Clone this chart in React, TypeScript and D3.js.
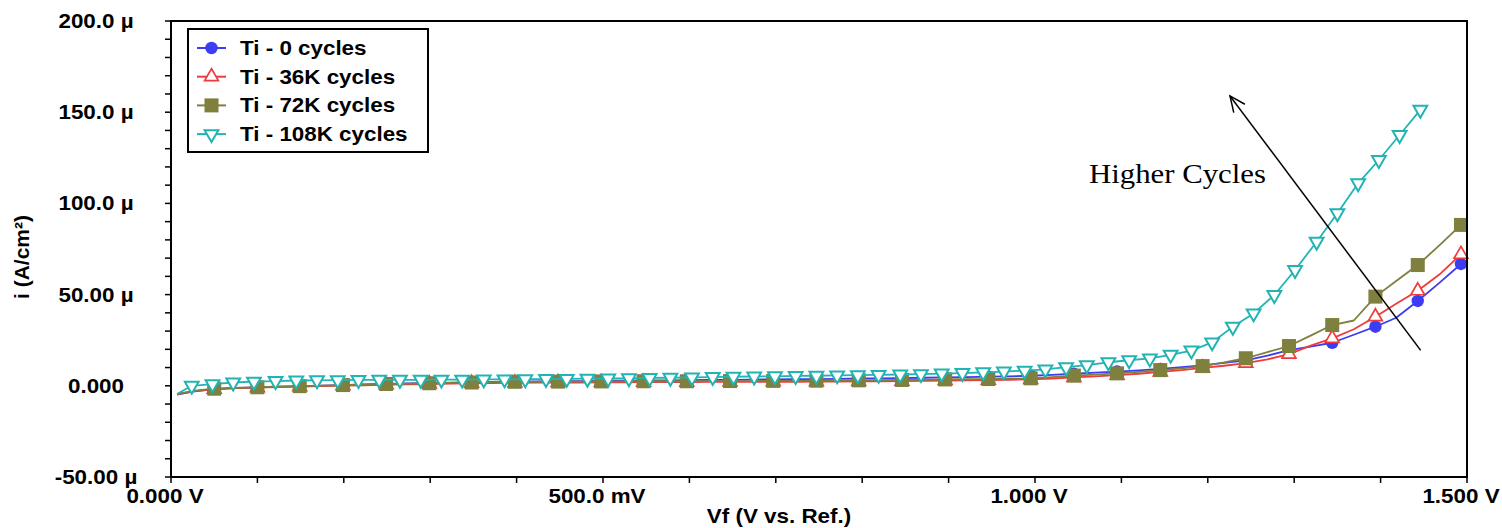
import React from "react";
import * as d3 from "d3";

// potential sweep (V vs. Ref.) and current density (µA/cm²)
const VF_SWEEP = [0.007, 0.025, 0.050, 0.075, 0.100, 0.124, 0.149, 0.174, 0.199, 0.224, 0.249, 0.274, 0.299, 0.324, 0.348, 0.373, 0.398, 0.423, 0.448, 0.473, 0.498, 0.523, 0.547, 0.572, 0.597, 0.622, 0.647, 0.672, 0.697, 0.722, 0.747, 0.771, 0.796, 0.821, 0.846, 0.871, 0.896, 0.921, 0.946, 0.970, 0.995, 1.020, 1.045, 1.070, 1.095, 1.120, 1.145, 1.170, 1.194, 1.219, 1.244, 1.269, 1.294, 1.319, 1.344, 1.369, 1.394, 1.418, 1.443, 1.468, 1.493];
const VF_SWEEP_108K = [0.007, 0.024, 0.048, 0.072, 0.096, 0.121, 0.145, 0.169, 0.193, 0.217, 0.241, 0.265, 0.289, 0.313, 0.337, 0.362, 0.386, 0.410, 0.434, 0.458, 0.482, 0.506, 0.530, 0.554, 0.578, 0.603, 0.627, 0.651, 0.675, 0.699, 0.723, 0.747, 0.771, 0.795, 0.819, 0.844, 0.868, 0.892, 0.916, 0.940, 0.964, 0.988, 1.012, 1.036, 1.060, 1.085, 1.109, 1.133, 1.157, 1.181, 1.205, 1.229, 1.253, 1.277, 1.301, 1.326, 1.350, 1.374, 1.398, 1.422, 1.446];

const I_0K = [-4.8, -3.2, -1.8, -1.2, -0.8, -0.5, -0.2, 0.1, 0.4, 0.7, 1.0, 1.3, 1.5, 1.7, 1.9, 2.1, 2.3, 2.4, 2.5, 2.6, 2.7, 2.8, 2.9, 3.0, 3.1, 3.2, 3.3, 3.4, 3.5, 3.6, 3.7, 3.8, 4.0, 4.1, 4.2, 4.4, 4.6, 4.8, 5.0, 5.2, 5.5, 6.0, 6.6, 7.2, 7.8, 8.5, 9.3, 10.2, 11.2, 12.6, 14.0, 16.5, 19.5, 21.5, 23.6, 28.0, 32.4, 37.3, 46.5, 56.4, 66.8];
const I_36K = [-4.7, -3.0, -1.8, -1.3, -1.0, -0.7, -0.5, -0.2, 0.1, 0.3, 0.6, 0.8, 1.0, 1.2, 1.4, 1.5, 1.6, 1.7, 1.8, 1.8, 1.9, 1.9, 2.0, 2.0, 2.0, 2.1, 2.1, 2.1, 2.2, 2.2, 2.3, 2.3, 2.4, 2.5, 2.6, 2.7, 2.9, 3.0, 3.1, 3.3, 3.5, 4.0, 4.6, 5.2, 5.8, 6.6, 7.6, 8.6, 9.8, 11.0, 12.4, 14.5, 17.4, 22.0, 26.0, 31.0, 37.9, 45.0, 52.1, 61.0, 72.1];
const I_72K = [-4.6, -2.8, -1.6, -1.1, -0.8, -0.5, -0.2, 0.1, 0.4, 0.7, 1.0, 1.2, 1.4, 1.6, 1.8, 2.0, 2.2, 2.2, 2.3, 2.3, 2.4, 2.4, 2.5, 2.5, 2.5, 2.6, 2.6, 2.6, 2.7, 2.7, 2.8, 2.9, 3.0, 3.1, 3.2, 3.3, 3.5, 3.6, 3.7, 3.9, 4.1, 4.8, 5.6, 6.1, 6.8, 7.6, 8.6, 9.6, 10.8, 12.8, 15.1, 18.5, 21.8, 27.5, 33.3, 35.8, 48.9, 57.5, 66.2, 77.0, 88.2];
const I_108K = [-4.5, 0.0, 0.9, 1.8, 2.3, 2.6, 2.9, 3.0, 3.1, 3.2, 3.3, 3.3, 3.3, 3.4, 3.4, 3.5, 3.5, 3.6, 3.7, 3.8, 3.9, 4.0, 4.1, 4.3, 4.4, 4.6, 4.8, 5.0, 5.1, 5.2, 5.4, 5.5, 5.7, 5.8, 6.0, 6.2, 6.4, 6.7, 7.0, 7.4, 7.8, 8.3, 9.0, 10.2, 11.3, 12.9, 14.0, 15.0, 17.0, 19.3, 23.8, 32.4, 39.7, 49.8, 63.5, 79.0, 94.6, 111.0, 123.8, 137.5, 151.3];

const SERIES_NAMES = ["Ti - 0 cycles", "Ti - 36K cycles", "Ti - 72K cycles", "Ti - 108K cycles"];

const X_TICKS = [0, 0.5, 1.0, 1.5];
const X_TICK_LABELS = ["0.000 V", "500.0 mV", "1.000 V", "1.500 V"];
const Y_TICKS = [200, 150, 100, 50, 0, -50];
const Y_TICK_LABELS = ["200.0 µ", "150.0 µ", "100.0 µ", "50.00 µ", "0.000", "-50.00 µ"];

// annotation arrow in data units [V, µA/cm²]
const ARROW_FROM = [1.4464, 19.4];
const ARROW_TO = [1.2257, 158.9];
const NOTE_AT = [1.0625, 111];

const W = 1502;
const H = 528;
const plot = { left: 171, right: 1467, top: 21, bottom: 477 };
const ARIAL = "'Liberation Sans', Arial, sans-serif";
const STRETCH = 1.12;

const x = d3.scaleLinear().domain([0, 1.5]).range([plot.left, plot.right]);
const y = d3.scaleLinear().domain([-50, 200]).range([plot.bottom, plot.top]);

const series = [
  { name: SERIES_NAMES[0], vf: VF_SWEEP, i: I_0K, color: "#3c3cf2", marker: "circle", every: 2 },
  { name: SERIES_NAMES[1], vf: VF_SWEEP, i: I_36K, color: "#ef3b3b", marker: "up", every: 2 },
  { name: SERIES_NAMES[2], vf: VF_SWEEP, i: I_72K, color: "#7f7f3e", marker: "square", every: 2 },
  { name: SERIES_NAMES[3], vf: VF_SWEEP_108K, i: I_108K, color: "#22b3b3", marker: "down", every: 1 },
];

const Marker = ({ type, cx, cy, color }: { type: string; cx: number; cy: number; color: string }) => {
  if (type === "circle") return <circle cx={cx} cy={cy} r={6.2} fill={color} />;
  if (type === "square") return <rect x={cx - 7} y={cy - 7} width={14} height={14} fill={color} />;
  const tri = d3.symbol().type(d3.symbolTriangle).size(82)();
  const rot = type === "down" ? 180 : 0;
  return (
    <path
      d={tri || ""}
      transform={`translate(${cx},${cy}) rotate(${rot})`}
      fill="white"
      stroke={color}
      strokeWidth={type === "down" ? 2 : 1.7}
    />
  );
};

const Label = ({ tx, ty, children, anchor = "middle", size = 20, weight = "bold", family = ARIAL, sx = STRETCH, baseline }: any) => (
  <g transform={`translate(${tx},${ty}) scale(${sx},1)`}>
    <text textAnchor={anchor} fontSize={size} fontWeight={weight} fontFamily={family} dominantBaseline={baseline}>
      {children}
    </text>
  </g>
);

const App = () => {
  const path = (s: any) =>
    d3
      .line<number>()
      .x((_, k) => x(s.vf[k]))
      .y((d) => y(d))(s.i) || "";

  const xMinor = d3.range(0, 1.5001, 0.1);
  const yMinor = d3.range(-50, 200.001, 10);

  const ax = x(ARROW_FROM[0]);
  const ay = y(ARROW_FROM[1]);
  const bx = x(ARROW_TO[0]);
  const by = y(ARROW_TO[1]);
  const ang = Math.atan2(ay - by, ax - bx);
  const head = 17;
  const spread = 0.42;

  return (
    <svg width={W} height={H} style={{ position: "absolute", left: 0, top: 0, background: "white" }}>
      <rect width={W} height={H} fill="white" />

      {/* curves */}
      {series.map((s) => (
        <g key={s.name}>
          <path d={path(s)} fill="none" stroke={s.color} strokeWidth={1.8} strokeLinejoin="round" />
          {s.i.map((v, k) =>
            k > 0 && k % s.every === 0 ? <Marker key={k} type={s.marker} cx={x(s.vf[k])} cy={y(v)} color={s.color} /> : null
          )}
        </g>
      ))}

      {/* frame */}
      <rect
        x={plot.left}
        y={plot.top}
        width={plot.right - plot.left}
        height={plot.bottom - plot.top}
        fill="none"
        stroke="black"
        strokeWidth={2}
      />
      {xMinor.map((t) => (
        <line key={"xt" + t} x1={x(t)} x2={x(t)} y1={plot.bottom} y2={plot.bottom + 6} stroke="black" strokeWidth={1.5} />
      ))}
      {yMinor.map((t) => (
        <line key={"yt" + t} x1={plot.left - 6} x2={plot.left} y1={y(t)} y2={y(t)} stroke="black" strokeWidth={1.5} />
      ))}

      {X_TICKS.map((t, k) => (
        <Label key={"xl" + t} tx={x(t) - 6} ty={plot.bottom + 26}>
          {X_TICK_LABELS[k]}
        </Label>
      ))}
      {Y_TICKS.map((t, k) => (
        <Label key={"yl" + t} tx={96} ty={y(t)} baseline="central">
          {Y_TICK_LABELS[k]}
        </Label>
      ))}

      <g transform={`translate(29,${(plot.top + plot.bottom) / 2 + 8}) rotate(-90)`}>
        <text textAnchor="middle" fontSize={21} fontWeight="bold" fontFamily={ARIAL}>
          i (A/cm²)
        </text>
      </g>
      <Label tx={(plot.left + plot.right) / 2 - 40} ty={523}>
        Vf (V vs. Ref.)
      </Label>

      {/* legend */}
      <rect x={188} y={29} width={240} height={123} fill="white" stroke="black" strokeWidth={2} />
      {series.map((s, k) => {
        const cy = 48 + k * 28.7;
        return (
          <g key={"lg" + s.name}>
            <line x1={197} x2={226} y1={cy} y2={cy} stroke={s.color} strokeWidth={2} />
            <Marker type={s.marker} cx={211.5} cy={cy} color={s.color} />
            <Label tx={240} ty={cy} anchor="start" baseline="central">
              {s.name}
            </Label>
          </g>
        );
      })}

      {/* annotation */}
      <line x1={ax} y1={ay} x2={bx} y2={by} stroke="black" strokeWidth={1.5} />
      <polyline
        points={`${bx + head * Math.cos(ang - spread)},${by + head * Math.sin(ang - spread)} ${bx},${by} ${
          bx + head * Math.cos(ang + spread)
        },${by + head * Math.sin(ang + spread)}`}
        fill="none"
        stroke="black"
        strokeWidth={1.5}
      />
      <Label tx={x(NOTE_AT[0])} ty={y(NOTE_AT[1])} anchor="start" size={28} weight="normal" family="'Liberation Serif', 'Times New Roman', serif" sx={1.1}>
        Higher Cycles
      </Label>
    </svg>
  );
};

export default App;
